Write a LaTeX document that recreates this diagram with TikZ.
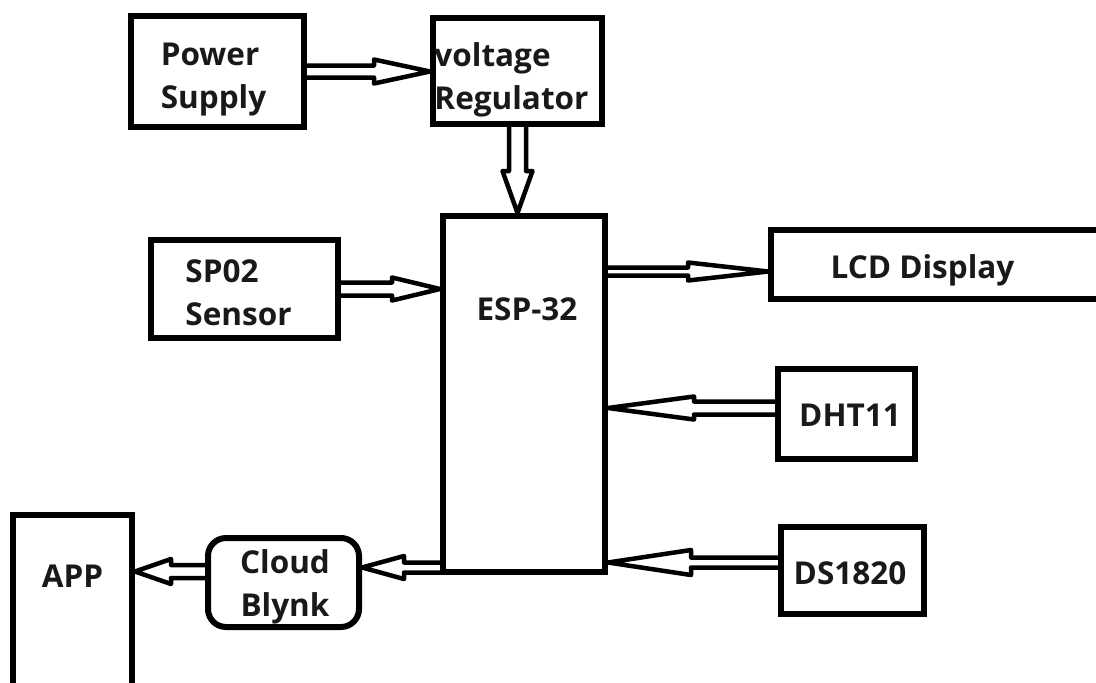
\documentclass[tikz,border=0pt]{standalone}
\usepackage{fontspec}
\setmainfont{Open Sans}
\usepackage{tikz}
\usetikzlibrary{calc}
\tikzset{
  every picture/.style={x=1pt, y=-1pt},
  box/.style={draw, line width=6pt, inner sep=0pt},
  txt/.style={inner sep=0pt, text=black!90, align=left, font=\bfseries\fontsize{31.5}{43}\selectfont},
  % hollow arrow: head length, head half width, shaft half width
  hollow/.style n args={3}{line width=4.5pt, line join=round, line cap=round, to path={
    let \p1=($(\tikztotarget)!#1!(\tikztostart)$) in
    ($(\tikztostart)!#3!90:(\tikztotarget)$) -- ($(\p1)!#3!90:(\tikztotarget)$)
    -- ($(\p1)!#2!90:(\tikztotarget)$) -- (\tikztotarget)
    -- ($(\p1)!#2!-90:(\tikztotarget)$) -- ($(\p1)!#3!-90:(\tikztotarget)$)
    -- ($(\tikztostart)!#3!-90:(\tikztotarget)$)}},
}

\begin{document}
\begin{tikzpicture}
\useasboundingbox (0,0) rectangle (1096,683);
% blocks
\node[box, minimum width=173, minimum height=111, label={[txt, xshift=-4pt, yshift=-8.5pt]center:Power\\Supply}] (ps) at (217.5,71.5) {};
\node[box, minimum width=169, minimum height=106, label={[txt, xshift=-6pt, yshift=-8.5pt]center:voltage\\Regulator}] (vr) at (517.5,71) {};
\node[box, minimum width=162, minimum height=356, label={[txt, xshift=3pt, yshift=85pt]center:ESP-32}] (esp) at (524,394) {};
\node[box, minimum width=187, minimum height=98, label={[txt, xshift=-6pt, yshift=-4pt]center:SP02\\Sensor}] (sp) at (244.5,289) {};
\node[box, minimum width=349, minimum height=69, label={[txt, xshift=-23pt, yshift=-6pt]center:LCD Display}] (lcd) at (945.5,264.5) {};
\node[box, minimum width=137, minimum height=90, label={[txt, xshift=3.5pt, yshift=-1pt]center:DHT11}] (dht) at (846.5,414) {};
\node[box, minimum width=143, minimum height=87, label={[txt, xshift=-2.5pt, yshift=-3pt]center:DS1820}] (ds) at (852.5,570.5) {};
\node[box, minimum width=119, minimum height=180, label={[txt, yshift=29pt]center:APP}] (app) at (72.5,605) {};
\node[box, minimum width=151, minimum height=89, rounded corners=18pt, label={[txt, align=center, xshift=1.5pt, yshift=-4pt]center:Cloud\\Blynk}] (cloud) at (283.5,582.5) {};
% arrow ends
\coordinate (vrin) at (vr.west |- ps.east);
\coordinate (espin) at (esp.north -| vr.south);
\coordinate (spin) at (esp.west |- sp.east);
\coordinate (lcdin) at ([yshift=-7pt]lcd.west);
\coordinate (lcdout) at (esp.east |- lcdin);
\coordinate (dhtout) at ([yshift=6pt]dht.west);
\coordinate (dhtin) at (esp.east |- dhtout);
\coordinate (dsout) at ([yshift=8pt]ds.west);
\coordinate (dsin) at (esp.east |- dsout);
\coordinate (cldin) at ([yshift=15pt]cloud.east);
\coordinate (cldout) at (esp.west |- cldin);
\coordinate (appout) at ([yshift=11pt]cloud.west);
\coordinate (appin) at (app.east |- appout);
% arrows
\draw[hollow={56pt}{12pt}{6pt}] (ps.east) to (vrin);
\draw[hollow={42pt}{15pt}{8.5pt}] (vr.south) to (espin);
\draw[hollow={48pt}{11.5pt}{6.5pt}] (sp.east) to (spin);
\draw[hollow={80pt}{9pt}{4pt}] (lcdout) to (lcdin);
\draw[hollow={86pt}{11.5pt}{6.5pt}] (dhtout) to (dhtin);
\draw[hollow={83pt}{12.5pt}{5pt}] (dsout) to (dsin);
\draw[hollow={42pt}{11.5pt}{5pt}] (cldout) to (cldin);
\draw[hollow={36pt}{12.5pt}{6.5pt}] (appout) to (appin);
\end{tikzpicture}
\end{document}
